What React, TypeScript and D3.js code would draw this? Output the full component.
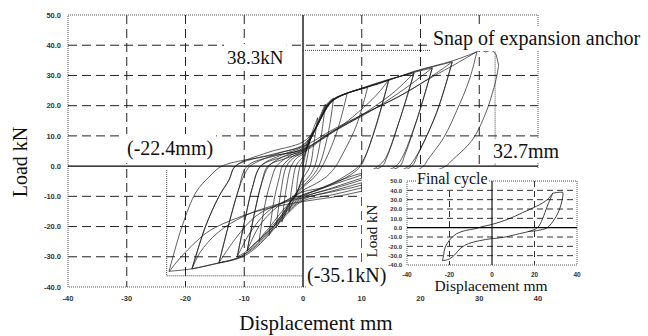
import { useEffect, useRef } from 'react';
import * as d3 from 'd3';

type Pt = [number, number];

// displacement (mm), load (kN).
// each cycle: previous negative peak -> positive peak -> its negative peak
const cycle01: Pt[] = [[0, 0], [0.5, 4.5], [1.2, 9], [0.8, 3.5], [0.4, 0], [0, -3], [-0.6, -6.5], [-1.2, -10]];
const cycle02: Pt[] = [[-1.2, -10], [-0.9, -4], [-0.5, 0], [0, 2], [0.9, 7.5], [1.7, 12], [2.5, 16], [1.9, 8], [1.2, 0], [0.5, -2.5], [0, -4], [-1, -8.5], [-1.8, -12], [-2.4, -15]];
const cycle03: Pt[] = [[-2.4, -15], [-1.9, -7], [-1.2, 0], [-0.5, 2], [0, 3], [1, 7.5], [2.2, 13], [3, 17], [3.8, 20.5], [3.1, 10], [2, 0], [1, -3.5], [0, -5.5], [-1.2, -9], [-2.5, -13.5], [-3.6, -18.5]];
const cycle04: Pt[] = [[-3.6, -18.5], [-2.9, -8], [-2, 0], [-1, 2.8], [0, 4], [1.2, 8.5], [2.5, 14], [3.6, 19], [4.4, 21.3], [5.2, 22.5], [4.3, 11], [2.7, 0], [1.3, -4], [0, -6.5], [-1.8, -10.5], [-3.2, -15.5], [-4.6, -20.5]];
const cycle05: Pt[] = [[-4.6, -20.5], [-3.8, -9], [-2.8, 0], [-1.4, 3], [0, 4.5], [1.3, 9], [2.7, 14.5], [3.9, 19.5], [5, 22], [6.2, 23.2], [7.5, 24], [5.8, 11.5], [3.3, 0], [2, -3.5], [0, -7], [-1.8, -11], [-3.6, -16], [-4.8, -19.5], [-5.8, -23]];
const cycle06: Pt[] = [[-5.8, -23], [-4.9, -11], [-4, -3.5], [-3.5, 0], [-1.7, 3.3], [0, 5], [1.4, 9.5], [2.8, 15], [4, 20], [5.3, 22.3], [7.5, 24.2], [9.3, 25.2], [11, 26], [9, 13], [6.2, 2], [5.6, 0], [4, -3.5], [2, -6], [0, -8], [-2, -11.5], [-4, -16], [-5.8, -20.5], [-6.7, -22.5], [-7.5, -25]];
const cycle07: Pt[] = [[-7.5, -25], [-6.4, -12], [-5.4, -4.5], [-4.5, 0], [-2.2, 3.5], [0, 5.5], [1.5, 10], [3, 15.5], [4.4, 20.5], [5.8, 22.7], [8.5, 24.8], [11.5, 26.6], [14.6, 28.5], [12.5, 14], [10.6, 3], [9.8, 0], [8, -3], [5, -6], [2.5, -8], [0, -9.5], [-2, -12.5], [-4.6, -18.5], [-6.5, -22.5], [-7.9, -25], [-9.5, -28]];
const cycle08: Pt[] = [[-9.5, -28], [-8.2, -15], [-7, -5.5], [-5.8, 0], [-3, 3.5], [0, 6], [1.6, 10.5], [3.1, 16], [4.5, 20.5], [6.2, 23], [10, 25.8], [14.6, 28.7], [18.9, 30.8], [16.5, 15.5], [14.3, 3], [13.5, 0], [11.5, -1.5], [8, -3.5], [4, -6.5], [0, -10], [-2, -13], [-4.8, -19.5], [-7.5, -24.5], [-9.7, -28.3], [-11.2, -30]];
const cycle09: Pt[] = [[-11.2, -30], [-9.8, -17], [-8.6, -7], [-7.2, 0], [-3.5, 3.8], [0, 6.5], [1.7, 11], [3.2, 16.5], [4.6, 21], [6.5, 23.3], [11, 26.3], [15, 28.8], [18.9, 31], [22, 32.5], [19.5, 16], [17.3, 3.5], [16.5, 0], [14, -1.8], [10, -4], [5, -7.2], [0, -10.5], [-2, -13.5], [-5, -20], [-8, -26], [-10.5, -29.8], [-12.5, -31.2], [-14.3, -32]];
const cycle10: Pt[] = [[-14.3, -32], [-12.6, -19], [-11, -8], [-10, -3], [-9, 0], [-4.5, 4], [0, 7], [1.8, 11.5], [3.3, 17], [4.7, 21.2], [6.8, 23.5], [12, 26.8], [18.9, 31.2], [22, 32.8], [25.4, 34.5], [22.8, 18], [19.6, 4], [18.5, 0], [15, -2.8], [10, -5.5], [5, -8.2], [0, -11], [-2, -14], [-5, -20.5], [-8, -26.5], [-11, -30.3], [-14.8, -32.2], [-18.9, -34]];
const cycle11: Pt[] = [[-18.9, -34], [-16.6, -20], [-14.3, -10], [-12.6, -4.6], [-11.5, 0], [-6, 4.5], [0, 8], [2, 12], [3.4, 17], [5, 21.5], [7, 23.8], [13, 27.3], [19, 31.4], [25.4, 34.8], [29.6, 37.8], [28.3, 28.5], [26.2, 18.5], [24, 9.6], [21.2, 2], [20.5, 0], [16, -4.5], [10, -7.2], [5, -9.5], [0, -11.5], [-2, -14.5], [-5, -21], [-8, -27], [-10.5, -30.2], [-14.8, -32.3], [-18.9, -34], [-22.8, -34.8]];

// repeated cycles at the same amplitude (pinched, straighter reloading)
const repeat07: Pt[] = [[-9.5, -28], [-8.2, -15], [-7.1, -6], [-6, 0], [-3, 2.5], [0, 4.5], [3, 8.5], [6, 12.5], [9.5, 18], [12.5, 23.5], [14.6, 28.5], [12.4, 13], [10.4, 2.5], [9.5, 0], [7, -3.5], [3.5, -7], [0, -8.5], [-2.5, -11], [-5, -14.5], [-7.5, -20], [-9.5, -28]];
const repeat08: Pt[] = [[-11.2, -30], [-9.8, -17], [-8.6, -7], [-7.2, 0], [-3.5, 3], [0, 5], [4, 10], [8, 14.5], [12, 19.5], [15.5, 24.5], [18.9, 30.8], [16.4, 15], [14, 2.5], [12.8, 0], [10.5, -2.5], [6, -5.5], [0, -9.5], [-3, -11.5], [-6, -15], [-9, -22], [-11.2, -30]];
const repeat09: Pt[] = [[-14.3, -32], [-12.6, -19], [-11, -8], [-9.5, 0], [-4.5, 3.5], [0, 5.5], [5, 11.5], [10, 16.5], [15, 22.5], [19, 28], [22, 32.5], [19.4, 15.5], [16.8, 2.5], [15.8, 0], [13, -2.5], [9, -5.2], [4, -8], [0, -10], [-4, -12.5], [-8, -16.5], [-11.5, -24], [-14.3, -32]];
const repeat10: Pt[] = [[-18.9, -34], [-16.6, -20], [-14.3, -10], [-12.6, -4.6], [-11.5, 0], [-5, 4], [0, 6.5], [5, 12], [10.6, 17.5], [16.3, 23], [21, 28.5], [25.4, 34.5], [22.7, 17.5], [19.2, 3], [18, 0], [14, -3.5], [10, -6.3], [5, -8.5], [0, -10.5], [-5, -13], [-10, -16.5], [-14.5, -22], [-17.5, -28.5], [-18.9, -34]];

// last cycle up to the anchor snap
const finalUp: Pt[] = [[-22.8, -34.8], [-20.6, -20], [-18.2, -8.6], [-16, -3.6], [-13.8, 0], [-7, 3], [0, 5.5], [5, 11.5], [10.6, 17.5], [16.3, 23], [22, 29.5], [26, 33.8], [29.6, 37.9]];
const finalSnap: Pt[] = [[29.6, 37.9], [30.3, 38.4], [31.1, 37.8], [32, 38.4], [32.5, 37.8], [32.9, 36.8], [33.1, 35], [33.3, 33.4]];
const finalDown: Pt[] = [[33.3, 33.4], [33, 30], [32.5, 26], [31.1, 17.5], [28.8, 8.6], [25.4, 2], [24.3, 0], [21, -2.5], [16, -5.2], [10, -8.3], [5, -10.3], [0, -11.7], [-6, -14], [-11, -17], [-16, -21.5], [-19, -26.5], [-21.4, -31.5], [-22.8, -35]];

// inset: final cycle
const insetDown: Pt[] = [[28.6, 37], [26, 23], [23.8, 9.5], [21.4, 0], [17, -4.2], [13, -6.4], [4.8, -10.6], [0, -11.7], [-6, -14], [-11, -17], [-14.8, -22], [-17.5, -29], [-20, -33.5], [-23.3, -35.5]];
const insetUp: Pt[] = [[-23.3, -35.5], [-22.8, -30], [-22, -21], [-19.5, -12], [-16.7, -6.5], [-12.4, -3], [-7.6, -1], [-4.8, 1], [0, 3.5], [8, 9.5], [14.3, 16], [21, 23], [26, 30], [28.6, 37]];
const insetSnap: Pt[] = [[28.6, 37], [31, 37.8], [33.3, 38]];
const insetRight: Pt[] = [[33.3, 38], [33.4, 35], [32.9, 28.6], [31.5, 18], [29.5, 9.5], [26, 0], [21.5, -3], [17, -4.2]];

const xTicks = [-40, -30, -20, -10, 0, 10, 20, 30, 40];
const yTicks = [50, 40, 30, 20, 10, 0, -10, -20, -30, -40];
const insetXTicks = [-40, -20, 0, 20, 40];

const peakLoad = 38.3;
const snapDisp = 32.7;
const minDispMark = -23.2;
const minLoadMark = -36.3;

const serif = '"Liberation Serif", "Times New Roman", serif';
const sans = '"Liberation Sans", Arial, sans-serif';

function App() {
    const svgRef = useRef<SVGSVGElement>(null);

    useEffect(() => {
        const svg = d3.select(svgRef.current);
        svg.selectAll('*').remove();

        const x = d3.scaleLinear().domain([-40, 40]).range([68, 538]);
        const y = d3.scaleLinear().domain([-40, 50]).range([287, 15]);
        const ix = d3.scaleLinear().domain([-40, 40]).range([407, 577]);
        const iy = d3.scaleLinear().domain([-40, 50]).range([265, 181]);

        const inner = (v: number) => v !== 0 && v !== 50 && v !== -40;
        const innerX = (v: number) => v !== 0 && v !== 40 && v !== -40;

        // grid
        svg.append('g').selectAll('line').data(yTicks.filter(inner)).join('line')
            .attr('x1', x(-40)).attr('x2', x(40))
            .attr('y1', d => y(d)).attr('y2', d => y(d))
            .attr('stroke', '#222').attr('stroke-dasharray', '9,5');
        svg.append('g').selectAll('line').data(xTicks.filter(innerX)).join('line')
            .attr('x1', d => x(d)).attr('x2', d => x(d))
            .attr('y1', y(50)).attr('y2', y(-40))
            .attr('stroke', '#222').attr('stroke-dasharray', '9,5');

        // frame
        svg.append('rect')
            .attr('x', x(-40)).attr('y', y(50))
            .attr('width', x(40) - x(-40)).attr('height', y(-40) - y(50))
            .attr('fill', 'none').attr('stroke', '#555').attr('stroke-dasharray', '1,1');

        // zero axes
        svg.append('line').attr('x1', x(-40)).attr('x2', x(40)).attr('y1', y(0)).attr('y2', y(0))
            .attr('stroke', '#000').attr('stroke-width', 1.3);
        svg.append('line').attr('x1', x(0)).attr('x2', x(0)).attr('y1', y(50)).attr('y2', y(-40))
            .attr('stroke', '#000').attr('stroke-width', 1.3);

        // tick labels
        svg.append('g').selectAll('text').data(yTicks).join('text')
            .attr('x', 61).attr('y', d => y(d) + 2.7)
            .attr('text-anchor', 'end')
            .attr('font-family', sans).attr('font-size', 7.5).attr('font-weight', 'bold').attr('fill', '#333')
            .text(d => d.toFixed(1));
        svg.append('g').selectAll('text').data(xTicks).join('text')
            .attr('x', d => x(d)).attr('y', 301)
            .attr('text-anchor', 'middle')
            .attr('font-family', sans).attr('font-size', 7.5).attr('font-weight', 'bold').attr('fill', '#333')
            .text(d => String(d));

        // hysteresis loops
        const line = d3.line<Pt>()
            .x(d => x(d[0]))
            .y(d => y(d[1]))
            .curve(d3.curveCatmullRom.alpha(0.5));

        const loops = [cycle01, cycle02, cycle03, cycle04, cycle05, cycle06, cycle07, cycle08, cycle09, cycle10, cycle11,
            repeat07, repeat08, repeat09, repeat10];
        const branches: Pt[][] = [];
        loops.forEach(loop => {
            const i = d3.maxIndex(loop, d => d[0]);
            branches.push(loop.slice(0, i + 1), loop.slice(i));
        });
        branches.push(finalUp, finalDown);

        const curves = svg.append('g');
        curves.selectAll('path').data(branches).join('path')
            .attr('d', d => line(d))
            .attr('fill', 'none')
            .attr('stroke', '#1a1a1a')
            .attr('stroke-width', 0.7);
        curves.append('path')
            .attr('d', d3.line<Pt>().x(d => x(d[0])).y(d => y(d[1]))(finalSnap))
            .attr('fill', 'none').attr('stroke', '#1a1a1a').attr('stroke-width', 0.7);

        // dotted markers
        const dotted = svg.append('g').attr('stroke', '#444').attr('stroke-dasharray', '1,1').attr('fill', 'none');
        dotted.append('line').attr('x1', x(0)).attr('x2', x(snapDisp)).attr('y1', y(peakLoad)).attr('y2', y(peakLoad));
        dotted.append('line').attr('x1', x(snapDisp)).attr('x2', x(snapDisp)).attr('y1', y(peakLoad)).attr('y2', y(0));
        dotted.append('line').attr('x1', x(minDispMark)).attr('x2', x(minDispMark)).attr('y1', y(-1.3)).attr('y2', y(minLoadMark));
        dotted.append('line').attr('x1', x(minDispMark)).attr('x2', x(0)).attr('y1', y(minLoadMark)).attr('y2', y(minLoadMark));

        // labels on white boxes
        const label = (parent: any, text: string, px: number, py: number, size: number, padX = 2, padY = 2) => {
            const r = parent.append('rect').attr('fill', '#fff');
            const t = parent.append('text')
                .attr('x', px).attr('y', py)
                .attr('font-family', serif).attr('font-size', size).attr('fill', '#111')
                .text(text);
            const b = (t.node() as SVGTextElement).getBBox();
            r.attr('x', b.x - padX).attr('y', b.y - padY)
                .attr('width', b.width + 2 * padX).attr('height', b.height + 2 * padY);
        };
        label(svg, '38.3kN', 227, 64, 19, 3, 3);
        label(svg, '(-22.4mm)', 127, 155, 20, 3, 3);
        label(svg, 'Snap of expansion anchor', 433, 45, 20, 2, 1);
        label(svg, '32.7mm', 493, 158, 20, 2, 1);

        // axis titles
        svg.append('text')
            .attr('transform', 'translate(27,162) rotate(-90)')
            .attr('text-anchor', 'middle')
            .attr('font-family', serif).attr('font-size', 20).attr('fill', '#111')
            .text('Load kN');
        svg.append('text')
            .attr('x', 316).attr('y', 330)
            .attr('text-anchor', 'middle')
            .attr('font-family', serif).attr('font-size', 21).attr('fill', '#111')
            .text('Displacement mm');

        // inset
        const inset = svg.append('g');
        inset.append('rect').attr('x', 362).attr('y', 169).attr('width', 286).attr('height', 125).attr('fill', '#fff');

        inset.append('g').selectAll('line').data(yTicks.filter(inner)).join('line')
            .attr('x1', ix(-40)).attr('x2', ix(40))
            .attr('y1', d => iy(d)).attr('y2', d => iy(d))
            .attr('stroke', '#333').attr('stroke-dasharray', '6,4');
        inset.append('g').selectAll('line').data(insetXTicks.filter(innerX)).join('line')
            .attr('x1', d => ix(d)).attr('x2', d => ix(d))
            .attr('y1', iy(50)).attr('y2', iy(-40))
            .attr('stroke', '#333').attr('stroke-dasharray', '6,4');
        inset.append('rect')
            .attr('x', ix(-40)).attr('y', iy(50))
            .attr('width', ix(40) - ix(-40)).attr('height', iy(-40) - iy(50))
            .attr('fill', 'none').attr('stroke', '#555').attr('stroke-dasharray', '1,1');
        inset.append('line').attr('x1', ix(-40)).attr('x2', ix(40)).attr('y1', iy(0)).attr('y2', iy(0))
            .attr('stroke', '#000').attr('stroke-width', 1.2);
        inset.append('line').attr('x1', ix(0)).attr('x2', ix(0)).attr('y1', iy(50)).attr('y2', iy(-40))
            .attr('stroke', '#000').attr('stroke-width', 1.1);

        inset.append('g').selectAll('text').data(yTicks).join('text')
            .attr('x', 402).attr('y', d => iy(d) + 2.2)
            .attr('text-anchor', 'end')
            .attr('font-family', sans).attr('font-size', 6).attr('font-weight', 'bold').attr('fill', '#333')
            .text(d => d.toFixed(1));
        inset.append('g').selectAll('text').data(insetXTicks).join('text')
            .attr('x', d => ix(d)).attr('y', 277)
            .attr('text-anchor', 'middle')
            .attr('font-family', sans).attr('font-size', 6.5).attr('font-weight', 'bold').attr('fill', '#333')
            .text(d => String(d));

        const iline = d3.line<Pt>()
            .x(d => ix(d[0]))
            .y(d => iy(d[1]))
            .curve(d3.curveCatmullRom.alpha(0.5));
        inset.append('g').selectAll('path').data([insetDown, insetUp, insetSnap, insetRight]).join('path')
            .attr('d', d => iline(d))
            .attr('fill', 'none').attr('stroke', '#111').attr('stroke-width', 0.8);

        label(inset, 'Final cycle', 417, 184, 16, 1, 0);
        inset.append('text')
            .attr('transform', 'translate(377,231) rotate(-90)')
            .attr('text-anchor', 'middle')
            .attr('font-family', serif).attr('font-size', 15).attr('fill', '#111')
            .text('Load kN');
        inset.append('text')
            .attr('x', 491).attr('y', 291)
            .attr('text-anchor', 'middle')
            .attr('font-family', serif).attr('font-size', 15.5).attr('fill', '#111')
            .text('Displacement mm');

        // drawn last so it sits over the inset's corner
        label(svg, '(-35.1kN)', 307, 282, 20, 1, 2);
    }, []);

    return (
        <svg
            ref={svgRef}
            width="648"
            height="336"
            style={{ position: 'absolute', left: 0, top: 0, background: '#fff' }}
        />
    );
}

export default App;
